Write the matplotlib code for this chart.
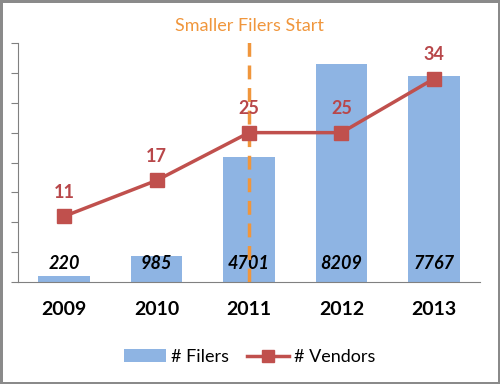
import numpy as np
import matplotlib
matplotlib.use("Agg")
import matplotlib.pyplot as plt
from matplotlib.lines import Line2D
from matplotlib.patches import Patch

plt.rcParams['font.family'] = ['Lato', 'DejaVu Sans']

# data
years = ['2009', '2010', '2011', '2012', '2013']
filers = [220, 985, 4701, 8209, 7767]
vendors = [11, 17, 25, 25, 34]
marker_year = '2011'

bar_color = '#8EB4E3'
line_color = '#C0504D'
orange = '#F0963C'

fig = plt.figure(figsize=(5.0, 3.84), dpi=100)
fig.patch.set_edgecolor('#8A8A8A')
fig.patch.set_linewidth(2.5)

ax = fig.add_axes([0.036, 0.2656, 0.924, 0.6224])
x = np.arange(len(years))

# filers as bars (hidden scale 0-9000)
ax.bar(x, filers, width=0.56, color=bar_color, zorder=2)
ax.set_ylim(0, 9000)
ax.set_xlim(-0.5, len(years) - 0.5)
ax.set_yticks(np.linspace(0, 9000, 9))
ax.set_yticklabels([])
ax.tick_params(axis='y', direction='out', length=5, color='#808080')
ax.tick_params(axis='x', length=0, pad=14)
ax.set_xticks(x)
ax.set_xticklabels(years, fontsize=14, fontweight='bold')
for s in ['top', 'right']:
    ax.spines[s].set_visible(False)
ax.spines['left'].set_color('#808080')
ax.spines['bottom'].set_color('#808080')

for xi, v in zip(x, filers):
    ax.annotate(str(v), (xi, 0), xytext=(0, 19), textcoords='offset pixels',
                ha='center', va='center', fontsize=13,
                fontweight='bold', fontstyle='italic', color='black', zorder=5)

# vendors as line on second scale (0-40)
ax2 = ax.twinx()
ax2.set_ylim(0, 40)
ax2.axis('off')

xm = years.index(marker_year)
ax2.plot([xm, xm], [0, 40.5], color=orange, lw=2.5, ls=(0, (4, 2.5)), zorder=1)
ax2.text(xm, 42.8, 'Smaller Filers Start', ha='center', va='center',
         fontsize=13, color=orange, clip_on=False)

ax2.plot(x, vendors, color=line_color, lw=2.5, marker='s', markersize=10, zorder=3)
for xi, v in zip(x, vendors):
    ax2.annotate(str(v), (xi, v), xytext=(0, 24), textcoords='offset pixels',
                 ha='center', va='center', fontsize=13, fontweight='bold',
                 color='#B8474A')

handles = [Patch(facecolor=bar_color, edgecolor='none'),
           Line2D([0], [0], color=line_color, lw=2.5, marker='s', markersize=9)]
fig.legend(handles, ['# Filers', '# Vendors'], loc='center',
           bbox_to_anchor=(0.5, 0.07), ncol=2, frameon=False, fontsize=13,
           handlelength=2.3, handleheight=0.7, columnspacing=1.0, handletextpad=0.3)

fig.savefig('out.png', dpi=100)
